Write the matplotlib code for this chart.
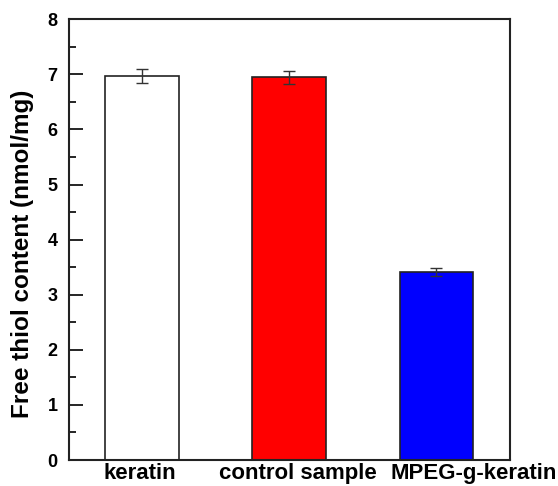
import matplotlib
matplotlib.use("Agg")
import matplotlib.pyplot as plt
from matplotlib.ticker import MultipleLocator
from matplotlib.transforms import ScaledTranslation

plt.rcParams["font.family"] = ["Liberation Sans", "DejaVu Sans"]
plt.rcParams["font.weight"] = "bold"

samples = ["keratin", "control sample", "MPEG-g-keratin"]
thiol = [6.97, 6.95, 3.41]
thiol_err = [0.12, 0.12, 0.07]
colors = ["white", "red", "blue"]

fig = plt.figure(figsize=(5.58, 4.86), dpi=100)
ax = fig.add_axes([68.5 / 558, 1 - 460 / 486, (510 - 68.5) / 558, (460 - 19.3) / 486])

pos = list(range(1, len(samples) + 1))
ax.bar(pos, thiol, width=0.5, color=colors, edgecolor="#222222", linewidth=1.2,
       yerr=thiol_err, error_kw=dict(ecolor="#333333", elinewidth=1, capsize=4, capthick=1))

ax.set_xlim(0.5, 3.5)
ax.set_ylim(0, 8)
ax.set_xticks(pos)
ax.set_xticklabels(samples, fontsize=16, fontweight="bold")
ax.tick_params(axis="x", length=0, pad=2)
# labels in the original sit a bit right of the bar centres
shifts_px = [-2, 9, 37]
for lab, dx in zip(ax.get_xticklabels(), shifts_px):
    lab.set_transform(lab.get_transform() + ScaledTranslation(dx / 100, 0, fig.dpi_scale_trans))

ax.yaxis.set_major_locator(MultipleLocator(1))
ax.yaxis.set_minor_locator(MultipleLocator(0.5))
ax.tick_params(axis="y", which="major", direction="in", length=10, width=1.2, labelsize=13, pad=8)
ax.tick_params(axis="y", which="minor", direction="in", length=5, width=1.2)
for lab in ax.get_yticklabels():
    lab.set_fontweight("bold")
for sp in ax.spines.values():
    sp.set_linewidth(1.5)
    sp.set_color("#222222")

ax.set_ylabel("Free thiol content (nmol/mg)", fontsize=17.5, fontweight="bold")
ax.yaxis.set_label_coords(-0.078, 0.467)

fig.savefig("out.png", dpi=100, facecolor="white")
